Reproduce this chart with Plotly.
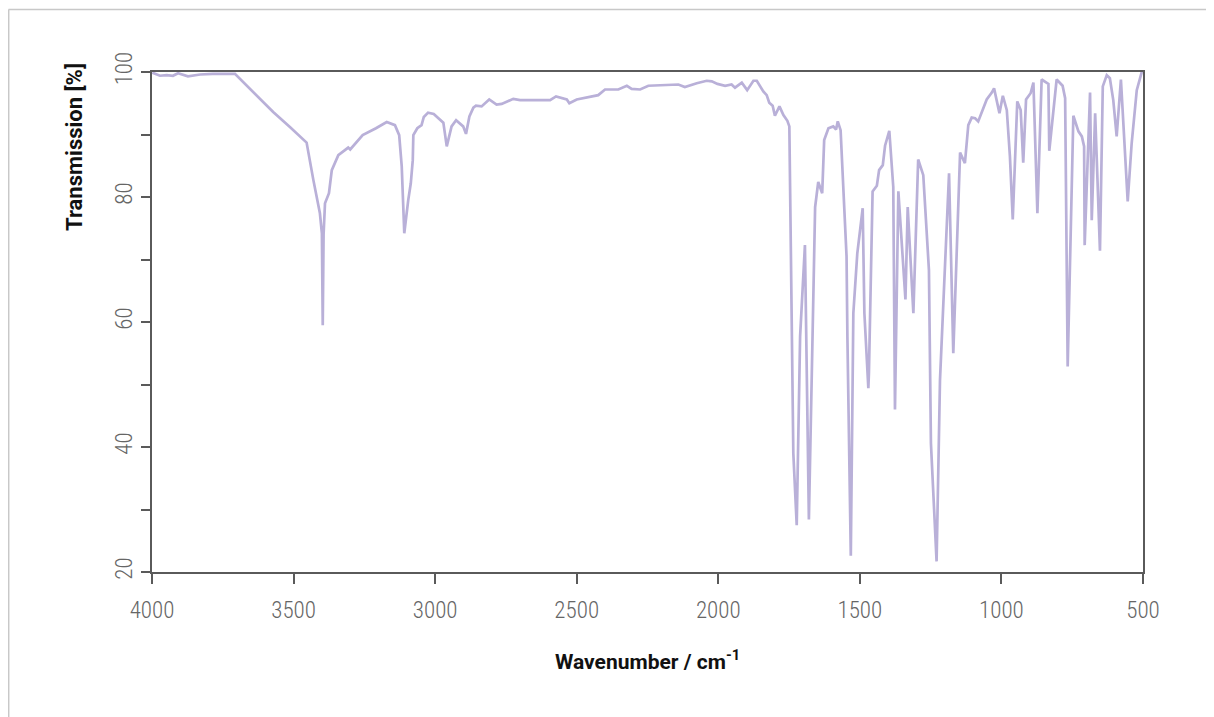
import plotly.graph_objects as go

wavenumber = [
    3999, 3972, 3948, 3926, 3908, 3873, 3830, 3785, 3707, 3642, 3572, 3513, 3454, 3430,
    3407, 3400, 3397, 3394, 3389, 3375, 3365, 3342, 3307, 3300, 3256, 3209, 3171, 3142,
    3127, 3118, 3109, 3095, 3086, 3079, 3077, 3063, 3048, 3040, 3025, 3005, 2971, 2959,
    2942, 2926, 2901, 2891, 2879, 2865, 2856, 2836, 2809, 2783, 2765, 2724, 2700, 2594,
    2573, 2535, 2526, 2500, 2424, 2400, 2353, 2323, 2306, 2276, 2247, 2141, 2118, 2076,
    2041, 2023, 2003, 1976, 1953, 1941, 1917, 1898, 1876, 1864, 1841, 1829, 1820, 1808,
    1800, 1784, 1770, 1756, 1749, 1735, 1723, 1711, 1694, 1680, 1658, 1647, 1633, 1626,
    1611, 1594, 1584, 1578, 1568, 1547, 1544, 1532, 1529, 1523, 1509, 1490, 1484, 1470,
    1468, 1455, 1440, 1432, 1419, 1411, 1396, 1382, 1376, 1364, 1339, 1331, 1311, 1294,
    1276, 1256, 1249, 1229, 1217, 1185, 1170, 1146, 1129, 1117, 1105, 1093, 1082, 1070,
    1052, 1034, 1026, 1017, 1007, 995, 981, 970, 960, 944, 932, 923, 913, 897, 887, 873,
    858, 834, 831, 805, 784, 775, 766, 746, 728, 716, 708, 706, 687, 681, 669, 652, 642,
    628, 617, 605, 593, 578, 554, 540, 522, 505, 500,
]
transmission = [
    99.9, 99.4, 99.5, 99.4, 99.8, 99.3, 99.6, 99.7, 99.7, 96.8, 93.6, 91.2, 88.7, 82.7,
    77.4, 74.2, 59.5, 74.0, 79.0, 80.6, 84.3, 86.7, 87.9, 87.6, 89.9, 91.0, 92.0, 91.5,
    89.9, 84.9, 74.2, 79.5, 82.2, 85.9, 89.9, 91.0, 91.5, 92.8, 93.5, 93.3, 91.9, 88.1,
    91.3, 92.3, 91.3, 90.1, 92.9, 94.3, 94.6, 94.5, 95.6, 94.8, 94.9, 95.7, 95.5, 95.5,
    96.1, 95.6, 95.0, 95.6, 96.3, 97.2, 97.2, 97.8, 97.3, 97.2, 97.8, 98.0, 97.6, 98.2,
    98.6, 98.5, 98.1, 97.8, 98.0, 97.5, 98.3, 97.1, 98.6, 98.6, 96.9, 96.3, 95.1, 94.6,
    93.0, 94.5, 93.1, 92.2, 91.3, 39.0, 27.5, 57.7, 72.3, 28.4, 78.4, 82.4, 80.6, 89.1,
    91.0, 91.3, 90.8, 92.1, 90.7, 70.5, 57.7, 22.6, 34.2, 61.4, 71.0, 78.2, 61.4, 49.4,
    51.8, 80.9, 81.8, 84.3, 85.1, 88.2, 90.6, 81.6, 46.0, 80.9, 63.6, 78.4, 61.4, 86.0,
    83.5, 68.3, 40.6, 21.7, 50.7, 83.8, 55.0, 87.1, 85.4, 91.5, 92.7, 92.6, 92.1, 93.6,
    95.6, 96.7, 97.4, 95.5, 93.4, 96.2, 93.9, 86.5, 76.4, 95.3, 93.9, 85.5, 95.6, 96.6, 98.3, 77.4,
    98.8, 98.1, 87.4, 98.8, 97.8, 95.8, 52.9, 93.0, 90.5, 89.7, 88.1, 72.3, 96.7, 76.3, 93.4, 71.4, 97.7,
    99.5, 99.0, 95.5, 89.7, 98.8, 79.3, 88.6, 97.1, 99.9, 100.0,
]

x_ticks = [4000, 3500, 3000, 2500, 2000, 1500, 1000, 500]
y_ticks = [20, 40, 60, 80, 100]
y_minor_ticks = [30, 50, 70, 90]

LINE_COLOR = "#b9b0d8"
AXIS_COLOR = "#5a5a5a"
TICK_FONT = dict(family="Liberation Sans Narrow, Roboto Condensed, Roboto, sans-serif",
                 size=23, color="#666666", weight=300)

# the page body adds an 8px offset; figure is sized so that the plot area
# lands at x 152..1143, y 72..572 in the window
fig = go.Figure()
fig.add_trace(go.Scatter(
    x=wavenumber, y=transmission, mode="lines",
    line=dict(color=LINE_COLOR, width=2.7),
    hoverinfo="skip", showlegend=False,
))

fig.update_layout(
    width=1206, height=709,
    margin=dict(l=144, r=71, t=64, b=145),
    paper_bgcolor="white", plot_bgcolor="white",
    showlegend=False,
)
fig.update_xaxes(
    range=[4000, 500], tickvals=x_ticks, ticktext=[str(v) for v in x_ticks],
    showgrid=False, zeroline=False,
    showline=True, linecolor=AXIS_COLOR, linewidth=1.5, mirror=True,
    ticks="outside", ticklen=10, tickwidth=1.5, tickcolor=AXIS_COLOR,
    tickfont=TICK_FONT, ticklabelstandoff=7,
)
fig.update_yaxes(
    range=[20, 100], tickvals=y_ticks, ticktext=[str(v) for v in y_ticks],
    showgrid=False, zeroline=False,
    showline=True, linecolor=AXIS_COLOR, linewidth=1.5, mirror=True,
    ticks="outside", ticklen=9, tickwidth=1.5, tickcolor=AXIS_COLOR,
    minor=dict(tickvals=y_minor_ticks, ticks="outside", ticklen=9,
               tickwidth=1.5, tickcolor=AXIS_COLOR, showgrid=False),
    tickfont=TICK_FONT, tickangle=-90, ticklabelstandoff=0,
)

fig.add_annotation(
    text="<b>Transmission [%]</b>", xref="paper", yref="paper",
    x=(74 - 152) / 991, y=(572 - 147) / 500, textangle=-90,
    showarrow=False, xanchor="center", yanchor="middle",
    font=dict(family="Roboto, DejaVu Sans, sans-serif", size=22, color="#111111"),
)
fig.add_annotation(
    text="<b>Wavenumber / cm<sup>-1</sup></b>", xref="paper", yref="paper",
    x=0.5, y=(572 - 660) / 500,
    showarrow=False, xanchor="center", yanchor="middle",
    font=dict(family="Roboto, DejaVu Sans, sans-serif", size=21, color="#111111"),
)

# outer frame lines (top and left)
fig.add_shape(type="line", xref="paper", yref="paper",
              x0=(8.5 - 152) / 991, x1=(1230 - 152) / 991,
              y0=(572 - 9.5) / 500, y1=(572 - 9.5) / 500,
              line=dict(color="#c8c8c8", width=1.5))
fig.add_shape(type="line", xref="paper", yref="paper",
              x0=(8.7 - 152) / 991, x1=(8.7 - 152) / 991,
              y0=(572 - 9.5) / 500, y1=(572 - 730) / 500,
              line=dict(color="#c8c8c8", width=1.5))

fig.write_html("out.html")
